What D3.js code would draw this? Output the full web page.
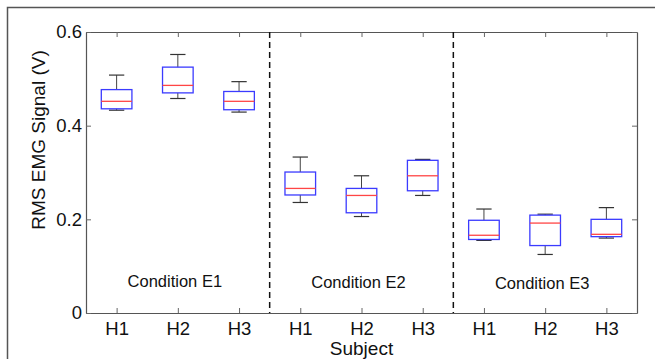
<!DOCTYPE html>
<html>
<head>
<meta charset="utf-8">
<script src="https://cdn.jsdelivr.net/npm/d3@7"></script>
<style>
  html, body { margin: 0; padding: 0; background: #fff; }
  svg { display: block; font-family: Arial, "Liberation Sans", Helvetica, sans-serif; }
</style>
</head>
<body>
<svg id="chart" width="655" height="359"></svg>
<script>
// ---- data ----
const conditions = ["Condition E1", "Condition E2", "Condition E3"];
const subjects = ["H1", "H2", "H3"];
const lowerWhisker = [0.433, 0.458, 0.429, 0.236, 0.206, 0.251, 0.155, 0.125, 0.160];
const q1           = [0.436, 0.470, 0.434, 0.252, 0.214, 0.261, 0.157, 0.144, 0.163];
const median       = [0.452, 0.486, 0.452, 0.266, 0.251, 0.293, 0.166, 0.192, 0.168];
const q3           = [0.477, 0.525, 0.473, 0.301, 0.266, 0.326, 0.198, 0.209, 0.200];
const upperWhisker = [0.508, 0.552, 0.494, 0.333, 0.293, 0.328, 0.222, 0.211, 0.225];
const yTicks = [0, 0.2, 0.4, 0.6];
const yLabel = "RMS EMG Signal (V)";
const xLabel = "Subject";

// ---- build table ----
const boxes = [];
conditions.forEach((c, ci) => subjects.forEach((s, si) => {
  const i = ci * subjects.length + si;
  boxes.push({pos: i + 1, cond: c, subj: s, lo: lowerWhisker[i], q1: q1[i], med: median[i], q3: q3[i], hi: upperWhisker[i]});
}));

const svg = d3.select("#chart");
const W = 655, H = 359;
const plot = {left: 86, right: 637, top: 32, bottom: 313};

// outer frame
svg.append("path")
  .attr("d", `M7.5,${H + 2} L7.5,7.5 L${W + 2},7.5`)
  .attr("fill", "none").attr("stroke", "#555").attr("stroke-width", 1.5);

const x = d3.scaleLinear().domain([0.5, boxes.length + 0.5]).range([plot.left, plot.right]);
const y = d3.scaleLinear().domain([0, 0.6]).range([plot.bottom, plot.top]);

const g = svg.append("g");

// axes (ticks inward)
const xAxisB = d3.axisBottom(x).tickValues(boxes.map(d => d.pos)).tickFormat((d, i) => boxes[i].subj).tickSizeInner(-5).tickSizeOuter(0).tickPadding(9);
const xAxisT = d3.axisTop(x).tickValues(boxes.map(d => d.pos)).tickFormat("").tickSizeInner(-5).tickSizeOuter(0);
const yAxisL = d3.axisLeft(y).tickValues(yTicks).tickFormat(d => d === 0 ? "0" : d3.format(".1f")(d)).tickSizeInner(-5).tickSizeOuter(0).tickPadding(4);
const yAxisR = d3.axisRight(y).tickValues(yTicks).tickFormat("").tickSizeInner(-5).tickSizeOuter(0);

function styleAxis(sel) {
  sel.attr("font-size", null).attr("font-family", null);
  sel.select(".domain").attr("stroke", "#555").attr("stroke-width", 1.2);
  sel.selectAll(".tick line").attr("stroke", "#666").attr("stroke-width", 1);
  sel.selectAll(".tick text").attr("fill", "#111").style("font-size", "18.5px").style("font-family", "Arial, 'Liberation Sans', sans-serif");
}
g.append("g").attr("transform", `translate(0,${plot.bottom})`).call(xAxisB).call(styleAxis);
g.append("g").attr("transform", `translate(0,${plot.top})`).call(xAxisT).call(styleAxis);
g.append("g").attr("transform", `translate(${plot.left},0)`).call(yAxisL).call(styleAxis);
g.append("g").attr("transform", `translate(${plot.right},0)`).call(yAxisR).call(styleAxis);

// dashed separators between conditions
const seps = d3.range(1, conditions.length).map(k => k * subjects.length + 0.5);
g.selectAll(".sep").data(seps).join("line")
  .attr("x1", d => x(d)).attr("x2", d => x(d))
  .attr("y1", plot.top).attr("y2", plot.bottom)
  .attr("stroke", "#111").attr("stroke-width", 1.5).attr("stroke-dasharray", "6,4");

// boxes
const boxW = x(1.25) - x(1);
const capW = x(1.125) - x(1);
const bg = g.selectAll(".box").data(boxes).join("g");
bg.append("line").attr("x1", d => x(d.pos)).attr("x2", d => x(d.pos)).attr("y1", d => y(d.hi)).attr("y2", d => y(d.q3)).attr("stroke", "#444").attr("stroke-width", 1);
bg.append("line").attr("x1", d => x(d.pos)).attr("x2", d => x(d.pos)).attr("y1", d => y(d.q1)).attr("y2", d => y(d.lo)).attr("stroke", "#444").attr("stroke-width", 1);
bg.append("line").attr("x1", d => x(d.pos) - capW).attr("x2", d => x(d.pos) + capW).attr("y1", d => y(d.hi)).attr("y2", d => y(d.hi)).attr("stroke", "#333").attr("stroke-width", 1.2);
bg.append("line").attr("x1", d => x(d.pos) - capW).attr("x2", d => x(d.pos) + capW).attr("y1", d => y(d.lo)).attr("y2", d => y(d.lo)).attr("stroke", "#333").attr("stroke-width", 1.2);
bg.append("rect").attr("x", d => x(d.pos) - boxW).attr("width", 2 * boxW)
  .attr("y", d => y(d.q3)).attr("height", d => y(d.q1) - y(d.q3))
  .attr("fill", "none").attr("stroke", "#3b3bff").attr("stroke-width", 1.3);
bg.append("line").attr("x1", d => x(d.pos) - boxW).attr("x2", d => x(d.pos) + boxW).attr("y1", d => y(d.med)).attr("y2", d => y(d.med)).attr("stroke", "#ff4545").attr("stroke-width", 1.3);

// condition labels
g.selectAll(".cond").data(conditions).join("text")
  .attr("x", (d, i) => x(i * subjects.length + 2) - 3)
  .attr("y", (d, i) => 287 + i)
  .attr("text-anchor", "middle")
  .attr("fill", "#111")
  .style("font-size", "16.5px")
  .text(d => d);

// axis labels
svg.append("text").attr("x", x(5)).attr("y", 355).attr("text-anchor", "middle").attr("fill", "#111").style("font-size", "19px").text(xLabel);
svg.append("text").attr("transform", "translate(45,140) rotate(-90)").attr("text-anchor", "middle").attr("fill", "#111").style("font-size", "19px").text(yLabel);
</script>
</body>
</html>
